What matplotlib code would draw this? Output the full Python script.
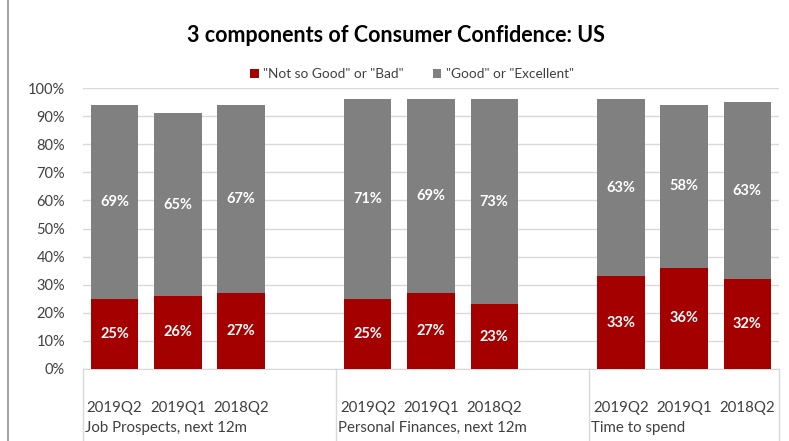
import matplotlib
matplotlib.use("Agg")
import matplotlib.pyplot as plt
from matplotlib.lines import Line2D
import matplotlib.transforms as mtransforms

plt.rcParams['font.family'] = ['Lato', 'DejaVu Sans']

groups = ["Job Prospects, next 12m", "Personal Finances, next 12m", "Time to spend"]
periods = ["2019Q2", "2019Q1", "2018Q2"]
bad = [25, 26, 27, 25, 27, 23, 33, 36, 32]
good = [69, 65, 67, 71, 69, 73, 63, 58, 63]
legend_labels = ['"Not so Good" or "Bad"', '"Good" or "Excellent"']
title = "3 components of Consumer Confidence: US"

red = "#A50000"
gray = "#808080"

fig = plt.figure(figsize=(7.89, 4.41), dpi=100)
ax = fig.add_axes([83/789, 1-369/441, (779-83)/789, (369-88)/441])

xs = []
for g in range(len(groups)):
    for p in range(len(periods)):
        xs.append(g*4 + p)

w = 0.75
b1 = ax.bar(xs, bad, width=w, color=red, label=legend_labels[0], zorder=3)
b2 = ax.bar(xs, good, width=w, bottom=bad, color=gray, label=legend_labels[1], zorder=3)
for x, b, g in zip(xs, bad, good):
    ax.text(x, b/2, f"{b}%", ha="center", va="center", color="white", fontsize=10.5, fontweight="bold", zorder=4)
    ax.text(x, b + g/2, f"{g}%", ha="center", va="center", color="white", fontsize=10.5, fontweight="bold", zorder=4)

ax.set_xlim(-0.5, 10.5)
ax.set_ylim(0, 100)
ax.set_yticks(range(0, 101, 10))
ax.set_yticklabels([f"{v}%" for v in range(0, 101, 10)], fontsize=10.5, color="#404040")
ax.tick_params(axis="y", length=0, pad=13)
ax.set_xticks([])
ax.grid(axis="y", color="#D9D9D9", linewidth=1, zorder=0)
for s in ["left", "right", "top"]:
    ax.spines[s].set_visible(False)
ax.spines["bottom"].set_color("#D9D9D9")

trans = mtransforms.blended_transform_factory(ax.transData, fig.transFigure)
for x, lab in zip(xs, periods*3):
    ax.text(x, 1-408/441, lab, transform=trans, ha="center", va="center", fontsize=10.8, color="#404040")
for g, name in enumerate(groups):
    ax.text(g*4 - 0.5 + 0.03, 1-428/441, name, transform=trans, ha="left", va="center", fontsize=10.8, color="#404040")
for bx in [-0.5, 3.5, 7.5, 10.5]:
    fig.add_artist(Line2D([bx, bx], [1-369/441, 0], transform=trans, color="#D9D9D9", linewidth=1))

fig.text(396/789, 1-35/441, title, ha="center", va="center", fontsize=15.5, fontweight="bold", color="black")
fig.legend(handles=[b1, b2], labels=legend_labels, loc="center", bbox_to_anchor=(412/789, 1-74/441),
           ncol=2, frameon=False, fontsize=9.8, handlelength=0.6, handleheight=0.6,
           handletextpad=0.3, columnspacing=2.2, labelcolor="#404040")

fig.add_artist(Line2D([8/789, 8/789], [0, 1], transform=fig.transFigure, color="#A6A6A6", linewidth=1.5))

fig.savefig("out.png", dpi=100)
